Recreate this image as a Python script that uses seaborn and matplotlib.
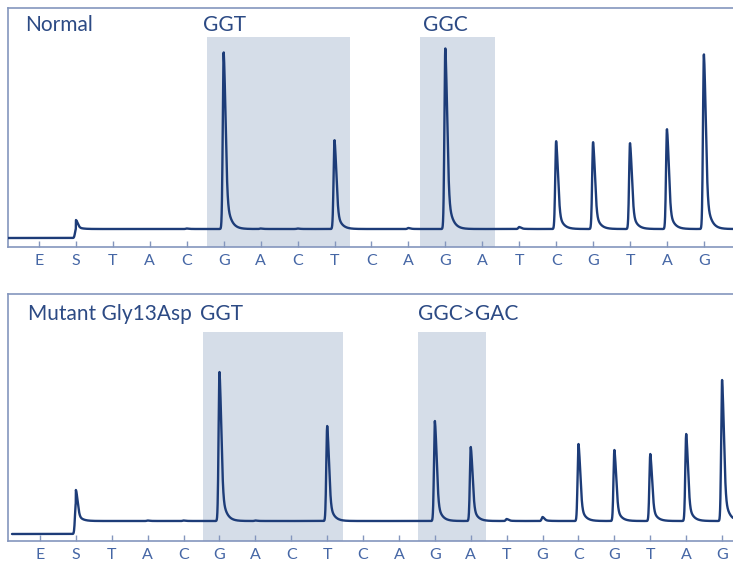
import numpy as np
import pandas as pd
import matplotlib
matplotlib.use("Agg")
import matplotlib.pyplot as plt
import seaborn as sns

# ---------------- data ----------------
top_flows = list("ESTACGACTCAGATCGTAG")
top_heights = [0, 9, 0, 0, 0.5, 177, 0.5, 0.5, 89, 0, 1, 181, 0, 2, 88, 87, 86, 100, 175]
top_baseline_pre = 9
top_baseline_post = 18
top_title = "Normal"
top_codon_labels = ["GGT", "GGC"]
top_shades = [(4.54, 8.43), (10.32, 12.35)]

bot_flows = list("ESTACGACTCAGATGCGTAG")
bot_heights = [0, 31, 0, 0.5, 0.5, 149, 0.5, 0, 95, 0, 0, 100, 74, 2, 4, 77, 71, 67, 87, 141]
bot_baseline_pre = 7
bot_baseline_post = 20
bot_title = "Mutant Gly13Asp"
bot_codon_labels = ["GGT", "GGC>GAC"]
bot_shades = [(4.54, 8.44), (10.53, 12.42)]

# ---------------- style ----------------
W, H = 733, 566
DPI = 100
LINE = "#1d3c78"
FRAME = "#8496bd"
SHADE = "#d5dde8"
TEXT = "#2c4a84"
TICKTXT = "#4566a5"

sns.set_theme(style="white")
plt.rcParams["font.family"] = ["Lato", "DejaVu Sans"]


def trace(flows, heights, pre, post, x0, x1):
    x = np.arange(x0, x1, 0.004)
    s_pos = flows.index("S")
    y = np.where(x < s_pos, pre, post).astype(float)
    for i, h in enumerate(heights):
        if h <= 0:
            continue
        dt = x - i
        rise = np.exp(-0.5 * (dt / 0.025) ** 2)
        fall = 0.65 * np.exp(-0.5 * (dt / 0.05) ** 2) + 0.35 * np.exp(-np.clip(dt, 0, None) / 0.11)
        shape = np.where(dt < 0, rise, fall)
        y += h * shape
    return pd.DataFrame({"flow": x, "signal": y})


def px_axes(fig, left, top, right, bottom):
    return fig.add_axes([left / W, 1 - bottom / H, (right - left) / W, (bottom - top) / H])


fig = plt.figure(figsize=(W / DPI, H / DPI), dpi=DPI)

panels = [
    dict(flows=top_flows, heights=top_heights, pre=top_baseline_pre, post=top_baseline_post,
         box=(8, 8, 733, 247), px0=39, step=36.94, shades=top_shades, shade_top=37,
         title=top_title, title_x=25, codon=top_codon_labels, codon_x=[203, 423], text_y=31,
         start_px=8),
    dict(flows=bot_flows, heights=bot_heights, pre=bot_baseline_pre, post=bot_baseline_post,
         box=(8, 294, 733, 541), px0=40, step=35.9, shades=bot_shades, shade_top=332,
         title=bot_title, title_x=28, codon=bot_codon_labels, codon_x=[200, 418], text_y=320,
         start_px=12),
]

for p in panels:
    left, top, right, bottom = p["box"]
    ax = px_axes(fig, left, top, right, bottom)
    xlo = (left - p["px0"]) / p["step"]
    xhi = (right - p["px0"]) / p["step"]
    yhi = bottom - top
    x_start = (p["start_px"] - p["px0"]) / p["step"]
    df = trace(p["flows"], p["heights"], p["pre"], p["post"], x_start, xhi + 0.05)

    for a, b in p["shades"]:
        ax.fill_between([a, b], 0, bottom - p["shade_top"], color=SHADE, lw=0, zorder=0)

    sns.lineplot(data=df, x="flow", y="signal", ax=ax, color=LINE, lw=1.7, zorder=3)

    ax.set_xlim(xlo, xhi)
    ax.set_ylim(0, yhi)
    ax.set_xticks(range(len(p["flows"])))
    ax.set_xticklabels(p["flows"], color=TICKTXT, fontsize=11.5)
    ax.set_yticks([])
    ax.set_xlabel("")
    ax.set_ylabel("")
    ax.tick_params(axis="x", direction="in", length=4.5, width=1.0, color=FRAME,
                   pad=5, bottom=True)
    for side in ["left", "top", "bottom"]:
        ax.spines[side].set_visible(True)
        ax.spines[side].set_color(FRAME)
        ax.spines[side].set_linewidth(1.2)
    ax.spines["right"].set_visible(False)
    ax.set_facecolor("white")
    ax.grid(False)

    fig.text(p["title_x"] / W, 1 - p["text_y"] / H, p["title"], color=TEXT,
             fontsize=15, ha="left", va="baseline")
    for lab, cx in zip(p["codon"], p["codon_x"]):
        fig.text(cx / W, 1 - p["text_y"] / H, lab, color=TEXT,
                 fontsize=15, ha="left", va="baseline")

fig.savefig("out.png", dpi=DPI)
